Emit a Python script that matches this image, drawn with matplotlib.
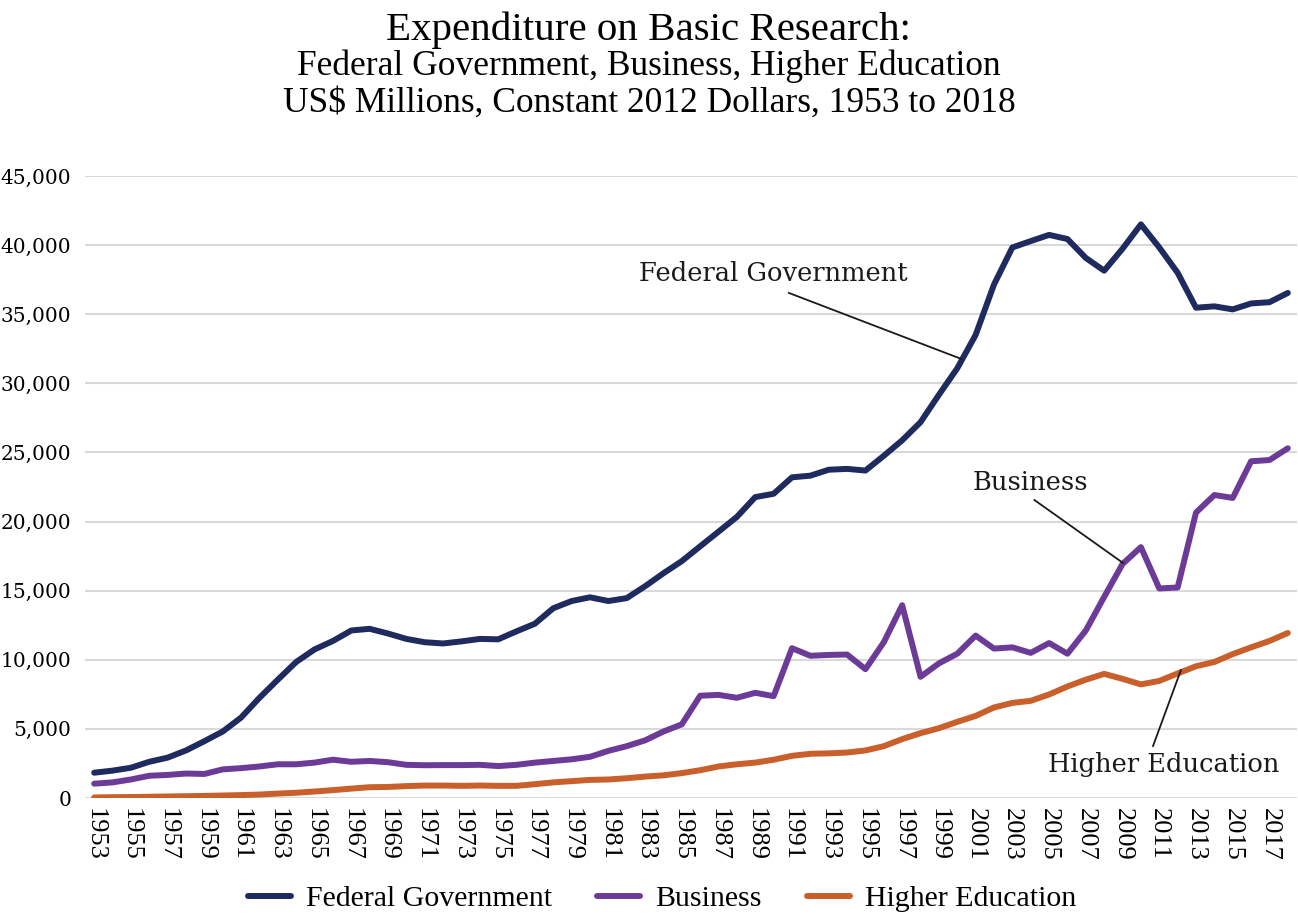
import numpy as np
import matplotlib
matplotlib.use("Agg")
import matplotlib.pyplot as plt

plt.rcParams['font.family'] = ['Liberation Serif', 'DejaVu Serif']

years = list(range(1953, 2019))

federal = [
    1830, 1980, 2190, 2620, 2920, 3440, 4110, 4810, 5820, 7250,
    8560, 9840, 10750, 11360, 12120, 12240, 11900, 11510, 11270, 11180,
    11330, 11510, 11480, 12060, 12610, 13730, 14250, 14520, 14250, 14460,
    15320, 16260, 17140, 18210, 19270, 20340, 21770, 22010, 23200, 23320,
    23750, 23810, 23690, 24760, 25880, 27190, 29170, 31090, 33500, 37150,
    39830, 40290, 40740, 40440, 39070, 38150, 39740, 41500, 39830, 38000,
    35470, 35570, 35350, 35780, 35870, 36540,
]

business = [
    1035, 1130, 1340, 1610, 1670, 1770, 1740, 2070, 2160, 2280,
    2440, 2440, 2560, 2770, 2620, 2680, 2590, 2400, 2370, 2380,
    2380, 2400, 2310, 2400, 2560, 2680, 2800, 2980, 3410, 3750,
    4170, 4810, 5330, 7400, 7460, 7250, 7610, 7370, 10840, 10290,
    10350, 10380, 9320, 11270, 13950, 8770, 9740, 10440, 11750, 10810,
    10900, 10500, 11210, 10440, 12120, 14550, 16930, 18150, 15160, 15230,
    20650, 21920, 21710, 24360, 24450, 25300,
]

higher_ed = [
    40, 60, 70, 90, 110, 130, 150, 180, 210, 250,
    320, 380, 470, 570, 680, 780, 800, 860, 900, 900,
    880, 900, 880, 880, 1000, 1130, 1220, 1310, 1340, 1430,
    1550, 1640, 1800, 2010, 2280, 2440, 2560, 2770, 3050, 3200,
    3230, 3290, 3440, 3750, 4260, 4690, 5050, 5510, 5940, 6550,
    6880, 7030, 7490, 8070, 8560, 8980, 8620, 8220, 8470, 9010,
    9530, 9840, 10410, 10900, 11360, 11940,
]

series_names = ["Federal Government", "Business", "Higher Education"]
colors = ["#1f2a5e", "#6c3b98", "#c95f2a"]

# callout label positions (text centre) and leader lines (start, end)
callout_text = [(1989.96, 37980), (2004.0, 22790), (2011.26, 2390)]
callout_line = [
    ((1990.83, 36540), (2000.23, 31760)),
    ((2004.2, 21560), (2009.03, 17000)),
    ((2010.66, 3760), (2012.18, 9260)),
]

fig = plt.figure(figsize=(12.98, 9.16), dpi=100)
ax = fig.add_axes([85 / 1298, 1 - 798 / 916, 1212 / 1298, 622 / 916])

for vals, name, c in zip([federal, business, higher_ed], series_names, colors):
    ax.plot(years, vals, color=c, lw=4.3, label=name, solid_capstyle='round',
            solid_joinstyle='round')

ax.set_xlim(1952.5, 2018.5)
ax.set_ylim(0, 45000)
ax.set_yticks(np.arange(0, 45001, 5000))
ax.set_yticklabels([f"{v:,}" for v in range(0, 45001, 5000)], fontsize=14.5,
                   family='DejaVu Serif')
ax.set_xticks(years[::2])
ax.set_xticklabels([str(y) for y in years[::2]], rotation=270, fontsize=19)
ax.tick_params(axis='y', length=0, pad=10)
ax.tick_params(axis='x', length=0, pad=7)
ax.grid(axis='y', color='#d9d9d9', lw=1.5)
ax.set_axisbelow(True)
for s in ax.spines.values():
    s.set_visible(False)

for name, (tx, ty), ((x0, y0), (x1, y1)) in zip(series_names, callout_text, callout_line):
    ax.text(tx, ty, name, fontsize=18.5, family='DejaVu Serif', color='#1a1a1a',
            ha='center', va='center')
    ax.plot([x0, x1], [y0, y1], color='#1a1a1a', lw=1.3)

fig.text(0.5, 1 - 30 / 916, "Expenditure on Basic Research:", ha='center',
         va='center', fontsize=29.5)
fig.text(0.5, 1 - 66 / 916, "Federal Government, Business, Higher Education",
         ha='center', va='center', fontsize=25.5)
fig.text(0.5, 1 - 103 / 916, "US$ Millions, Constant 2012 Dollars, 1953 to 2018",
         ha='center', va='center', fontsize=25.5)

fig.legend(loc='center', bbox_to_anchor=(662 / 1298, 1 - 899 / 916), ncol=3,
           frameon=False, fontsize=21.5, handlelength=1.45, columnspacing=1.5,
           handletextpad=0.5)

fig.savefig("out.png", dpi=100)
